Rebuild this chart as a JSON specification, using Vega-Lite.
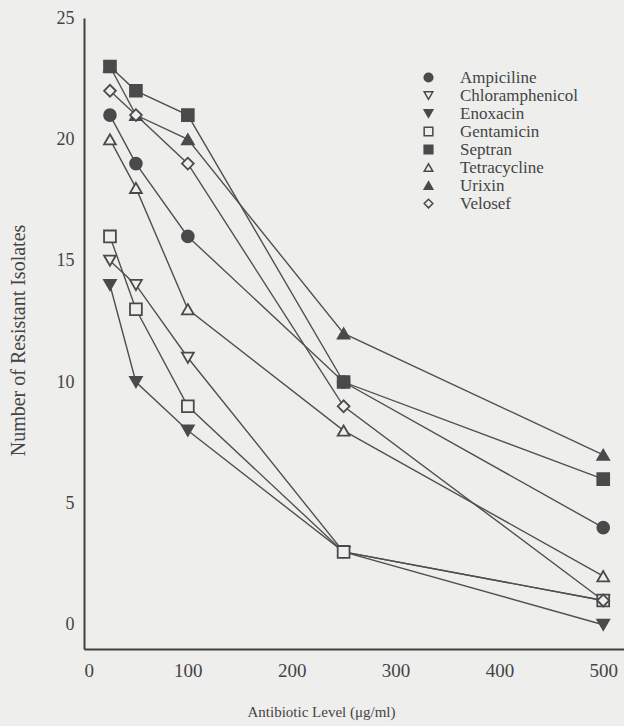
{
  "$schema": "https://vega.github.io/schema/vega-lite/v6.json",
  "width": 540,
  "height": 631,
  "autosize": {"type": "none"},
  "padding": {"left": 84, "top": 18, "right": 0, "bottom": 77},
  "background": "#eeeeec",
  "data": {
    "values": [
      {"drug": "Ampiciline", "level": 25, "count": 21},
      {"drug": "Ampiciline", "level": 50, "count": 19},
      {"drug": "Ampiciline", "level": 100, "count": 16},
      {"drug": "Ampiciline", "level": 250, "count": 10},
      {"drug": "Ampiciline", "level": 500, "count": 4},
      {"drug": "Chloramphenicol", "level": 25, "count": 15},
      {"drug": "Chloramphenicol", "level": 50, "count": 14},
      {"drug": "Chloramphenicol", "level": 100, "count": 11},
      {"drug": "Chloramphenicol", "level": 250, "count": 3},
      {"drug": "Chloramphenicol", "level": 500, "count": 1},
      {"drug": "Enoxacin", "level": 25, "count": 14},
      {"drug": "Enoxacin", "level": 50, "count": 10},
      {"drug": "Enoxacin", "level": 100, "count": 8},
      {"drug": "Enoxacin", "level": 250, "count": 3},
      {"drug": "Enoxacin", "level": 500, "count": 0},
      {"drug": "Gentamicin", "level": 25, "count": 16},
      {"drug": "Gentamicin", "level": 50, "count": 13},
      {"drug": "Gentamicin", "level": 100, "count": 9},
      {"drug": "Gentamicin", "level": 250, "count": 3},
      {"drug": "Gentamicin", "level": 500, "count": 1},
      {"drug": "Septran", "level": 25, "count": 23},
      {"drug": "Septran", "level": 50, "count": 22},
      {"drug": "Septran", "level": 100, "count": 21},
      {"drug": "Septran", "level": 250, "count": 10},
      {"drug": "Septran", "level": 500, "count": 6},
      {"drug": "Tetracycline", "level": 25, "count": 20},
      {"drug": "Tetracycline", "level": 50, "count": 18},
      {"drug": "Tetracycline", "level": 100, "count": 13},
      {"drug": "Tetracycline", "level": 250, "count": 8},
      {"drug": "Tetracycline", "level": 500, "count": 2},
      {"drug": "Urixin", "level": 25, "count": 23},
      {"drug": "Urixin", "level": 50, "count": 21},
      {"drug": "Urixin", "level": 100, "count": 20},
      {"drug": "Urixin", "level": 250, "count": 12},
      {"drug": "Urixin", "level": 500, "count": 7},
      {"drug": "Velosef", "level": 25, "count": 22},
      {"drug": "Velosef", "level": 50, "count": 21},
      {"drug": "Velosef", "level": 100, "count": 19},
      {"drug": "Velosef", "level": 250, "count": 9},
      {"drug": "Velosef", "level": 500, "count": 1}
    ]
  },
  "encoding": {
    "x": {
      "field": "level", "type": "quantitative",
      "scale": {"domain": [0, 520], "nice": false, "zero": false},
      "axis": {
        "title": "Antibiotic Level (\u03bcg/ml)", "values": [0, 100, 200, 300, 400, 500],
        "grid": false, "domainColor": "#404040", "domainWidth": 2, "tickSize": 0,
        "labelFont": "Liberation Serif", "labelFontSize": 19, "labelColor": "#444444", "labelPadding": 12,
        "titleFont": "Liberation Serif", "titleFontSize": 15, "titleFontWeight": "normal", "titleColor": "#444444",
        "titleX": 237, "titleY": 55, "titleAlign": "center", "titleBaseline": "top"
      }
    },
    "y": {
      "field": "count", "type": "quantitative",
      "scale": {"domain": [-1, 25], "nice": false, "zero": false},
      "axis": {
        "title": "Number of Resistant Isolates", "values": [0, 5, 10, 15, 20, 25],
        "grid": false, "domainColor": "#404040", "domainWidth": 2, "tickSize": 0,
        "labelFont": "Liberation Serif", "labelFontSize": 18, "labelColor": "#444444", "labelPadding": 10,
        "titleFont": "Liberation Serif", "titleFontSize": 20, "titleFontWeight": "normal", "titleColor": "#444444",
        "titleX": -66, "titleY": 322, "titleAlign": "center", "titleBaseline": "middle", "titleAngle": -90
      }
    }
  },
  "layer": [
    {
      "mark": {"type": "line", "color": "#505050", "strokeWidth": 1.4},
      "encoding": {"detail": {"field": "drug"}}
    },
    {
      "mark": {"type": "point", "filled": true, "stroke": "#4a4a4a", "strokeWidth": 1.8, "size": 140, "opacity": 1},
      "encoding": {
        "shape": {
          "field": "drug", "type": "nominal",
          "scale": {
            "domain": ["Ampiciline", "Chloramphenicol", "Enoxacin", "Gentamicin", "Septran", "Tetracycline", "Urixin", "Velosef"],
            "range": ["circle", "triangle-down", "triangle-down", "square", "square", "triangle-up", "triangle-up", "diamond"]
          },
          "legend": {
            "title": null, "orient": "none", "legendX": 336, "legendY": 51,
            "labelFont": "Liberation Serif", "labelFontSize": 17, "labelColor": "#444444",
            "rowPadding": 0.01, "symbolSize": 75, "labelOffset": 23,
            "encode": {
              "symbols": {"update": {"stroke": {"value": "#4a4a4a"}, "strokeWidth": {"value": 1.5}}}
            }
          }
        },
        "fill": {
          "field": "drug", "type": "nominal",
          "scale": {
            "domain": ["Ampiciline", "Chloramphenicol", "Enoxacin", "Gentamicin", "Septran", "Tetracycline", "Urixin", "Velosef"],
            "range": ["#4a4a4a", "#eeeeec", "#4a4a4a", "#eeeeec", "#4a4a4a", "#eeeeec", "#4a4a4a", "#eeeeec"]
          }
        }
      }
    }
  ],
  "config": {"view": {"stroke": null}}
}
